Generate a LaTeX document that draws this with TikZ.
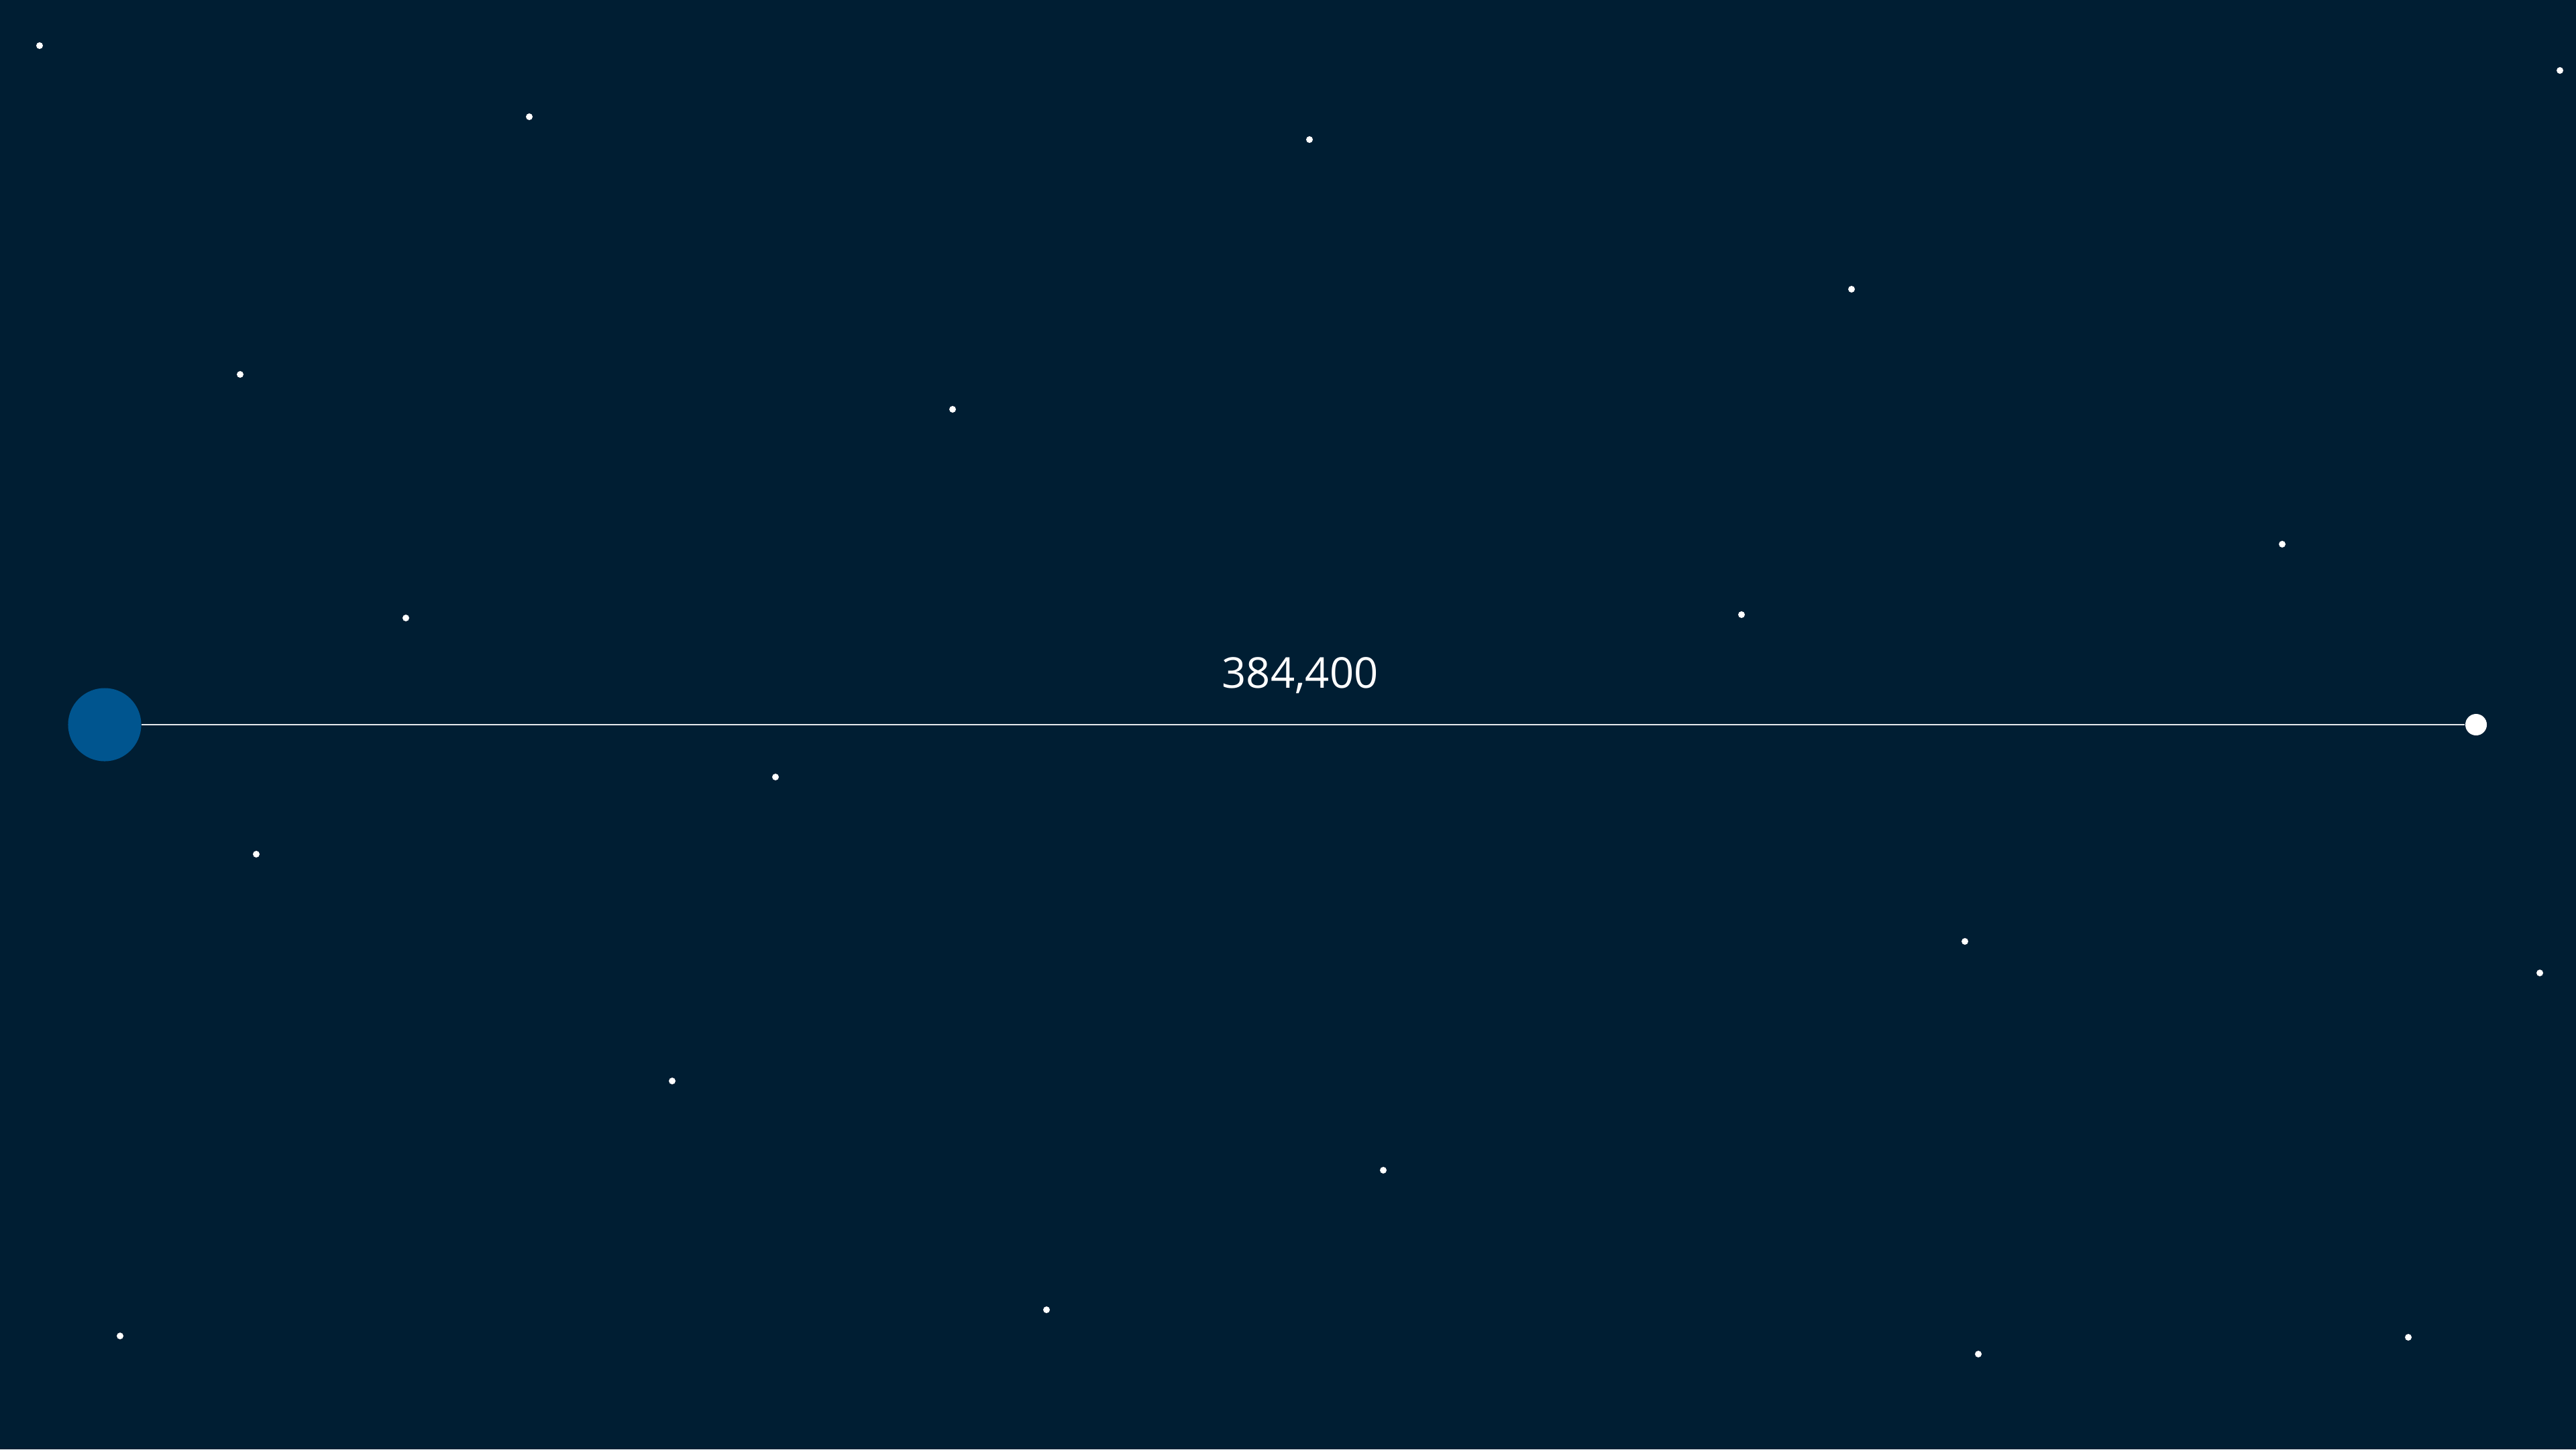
\documentclass[tikz,border=0pt]{standalone}
\usepackage{fontspec}
\setmainfont{Open Sans}
\usetikzlibrary{calc}

\begin{document}
\begin{tikzpicture}[x=0.01cm, y=-0.01cm]
    % Define colours
    \definecolor{skyColour}{HTML}{001E33}
    \definecolor{earthColour}{HTML}{00558F}
    \definecolor{lineColour}{HTML}{E6E9EC}

    % Define picture size
    \def\picWidth{3840}
    \def\picHeight{2160}

    % Draw background
    \fill[skyColour] (0,0) rectangle (\picWidth,\picHeight);
    \useasboundingbox (0,0) rectangle (\picWidth,\picHeight);

    % Draw stars
    \foreach \x/\y in {59/68, 789/174, 1952/208, 3816/105, 2760/431, 358/558,
                       1420/610, 3402/811, 605/921, 2596/916, 1156/1158, 382/1273,
                       2929/1403, 3786/1450, 1002/1611, 2062/1744, 1560/1952,
                       179/1991, 2949/2018, 3590/1993}
        \fill[white] (\x,\y) circle (5);

    % Earth and Moon
    \node[circle, fill=earthColour, minimum size=1.09cm, inner sep=0pt] (earth) at (156,1080) {};
    \node[circle, fill=white, minimum size=0.32cm, inner sep=0pt] (moon) at (3691,1080) {};

    % Distance line and its label
    \draw[lineColour, line width=0.02cm] (earth) -- (moon);
    \node[anchor=base, text=white, font=\fontsize{18}{22}\selectfont] (distance) at (1938,1025) {384,400};

\end{tikzpicture}
\end{document}
